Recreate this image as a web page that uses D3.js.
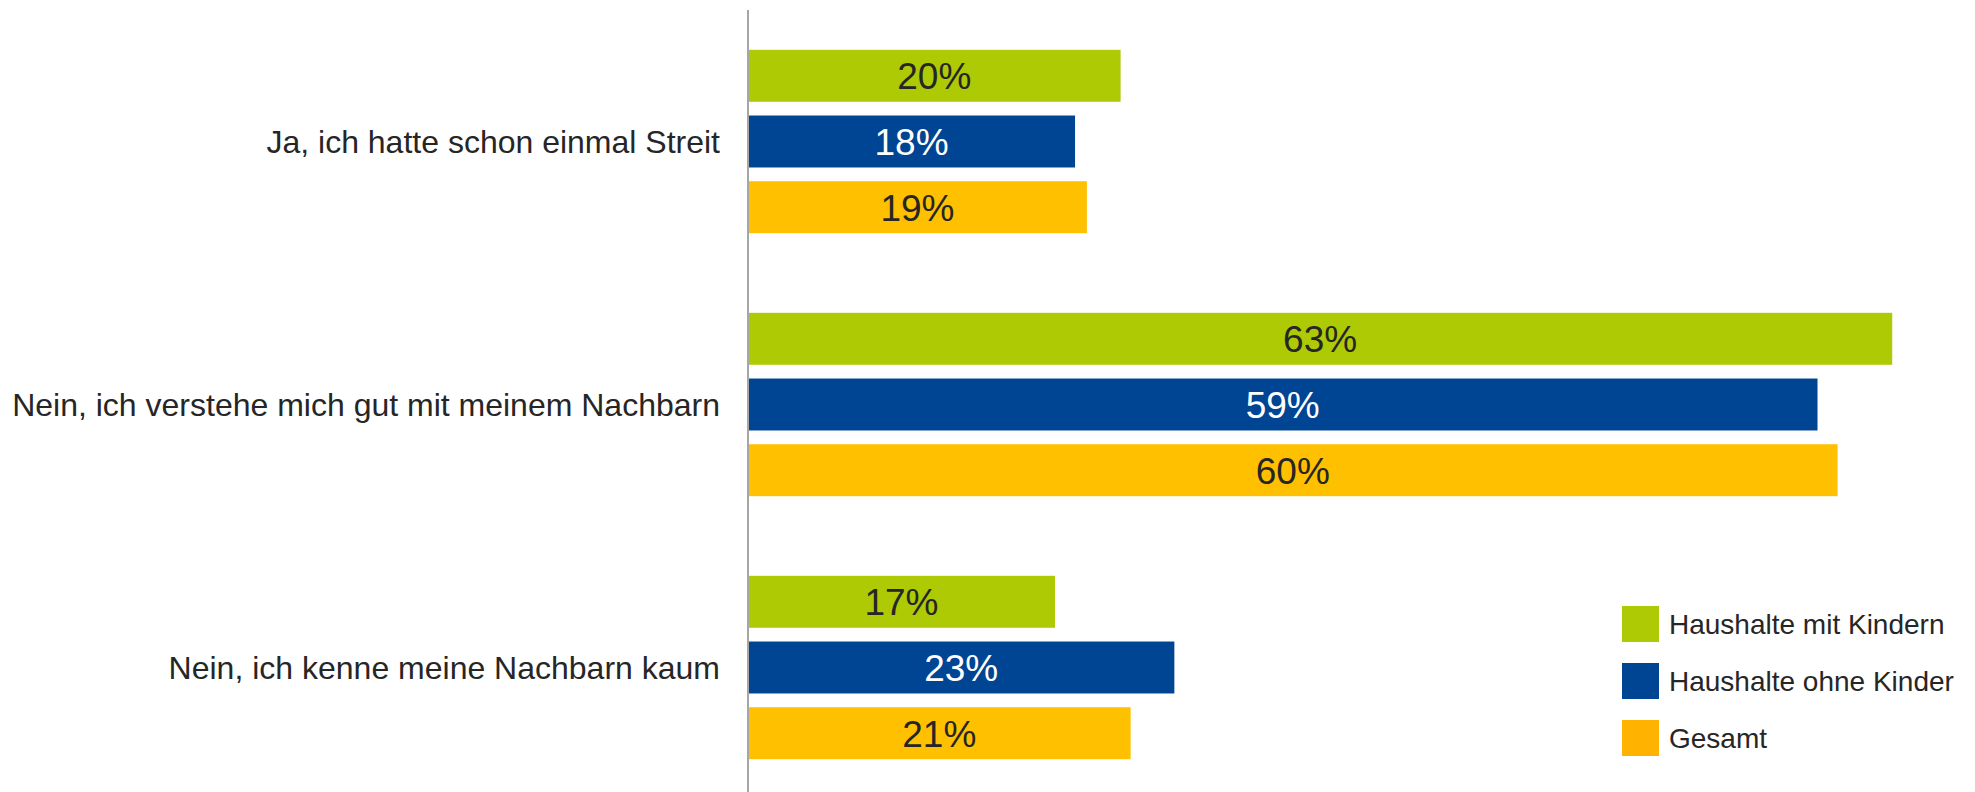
<!DOCTYPE html>
<html>
<head>
<meta charset="utf-8">
<script src="https://cdn.jsdelivr.net/npm/d3@7"></script>
<style>
  body { margin: 0; background: #fff; }
  text { font-family: "Liberation Sans", Arial, sans-serif; fill: #262626; }
</style>
</head>
<body>
<div id="chart"></div>
<script>
(function(){

const categories = [
  "Ja, ich hatte schon einmal Streit",
  "Nein, ich verstehe mich gut mit meinem Nachbarn",
  "Nein, ich kenne meine Nachbarn kaum"
];
const seriesNames = ["Haushalte mit Kindern", "Haushalte ohne Kinder", "Gesamt"];
const mitKindern = [20.45, 62.8, 16.85];
const ohneKinder = [17.95, 58.7, 23.4];
const gesamt = [18.6, 59.8, 21.0];

const barColors = ["#aeca05", "#004494", "#ffc000"];
const legendColors = ["#aeca05", "#004494", "#ffb300"];
const labelColors = ["#262626", "#ffffff", "#262626"];

const width = 1975;
const height = 792;

const svg = d3.select("#chart")
  .append("svg")
  .attr("width", width)
  .attr("height", height);

const series = [mitKindern, ohneKinder, gesamt];

const rows = [];
categories.forEach((c, i) => {
  series.forEach((s, j) => {
    rows.push({cat: c, name: seriesNames[j], idx: j, value: s[i]});
  });
});

const x = d3.scaleLinear()
  .domain([0, 100])
  .range([748, 748 + 1822]);

const y0 = d3.scaleBand()
  .domain(categories)
  .range([10, 799]);

const y1 = d3.scaleBand()
  .domain(seriesNames)
  .range([0, y0.bandwidth()])
  .paddingInner(0.209)
  .paddingOuter(0.606);

// bars
svg.append("g")
  .selectAll("rect")
  .data(rows)
  .enter()
  .append("rect")
  .attr("x", x(0))
  .attr("y", d => y0(d.cat) + y1(d.name))
  .attr("width", d => x(d.value) - x(0))
  .attr("height", y1.bandwidth())
  .attr("fill", d => barColors[d.idx]);

// value labels
svg.append("g")
  .selectAll("text")
  .data(rows)
  .enter()
  .append("text")
  .attr("x", d => (x(0) + x(d.value)) / 2)
  .attr("y", d => y0(d.cat) + y1(d.name) + y1.bandwidth() / 2)
  .attr("dy", "0.36em")
  .attr("text-anchor", "middle")
  .style("font-size", "37px")
  .style("fill", d => labelColors[d.idx])
  .text(d => Math.round(d.value) + "%");

// category axis
const yAxis = svg.append("g")
  .attr("transform", `translate(${x(0)},0)`)
  .call(d3.axisLeft(y0).tickSize(0).tickPadding(28));

yAxis.select(".domain")
  .attr("d", `M0,10V${height}`)
  .attr("stroke", "#a6a6a6")
  .attr("stroke-width", 2);

yAxis.selectAll("text")
  .style("font-size", "32px")
  .style("fill", "#262626")
  .attr("dy", "0.35em");

// legend
const legend = svg.append("g")
  .selectAll("g")
  .data(seriesNames)
  .enter()
  .append("g")
  .attr("transform", (d, i) => `translate(1622,${606 + i * 57})`);

legend.append("rect")
  .attr("width", 37)
  .attr("height", 36)
  .attr("fill", (d, i) => legendColors[i]);

legend.append("text")
  .attr("x", 47)
  .attr("y", 28)
  .style("font-size", "28px")
  .text(d => d);

})();
</script>
</body>
</html>
